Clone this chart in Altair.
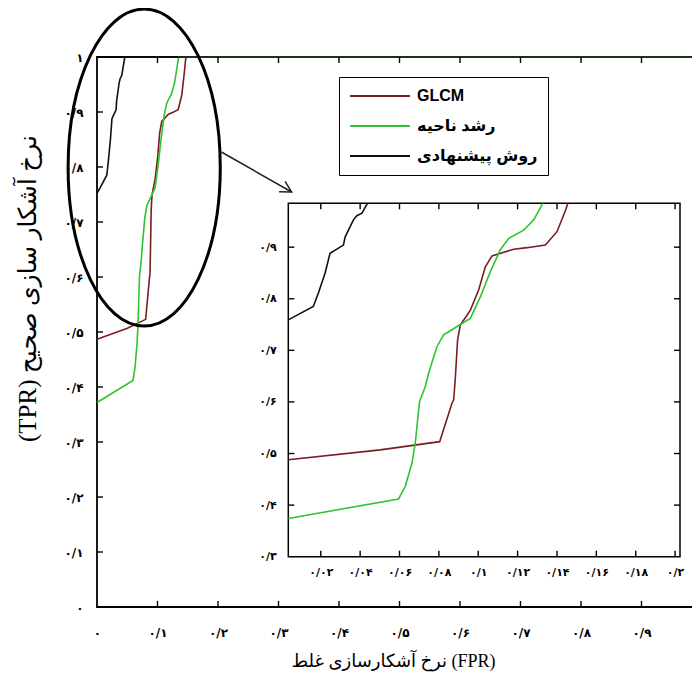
import json
import altair as alt
import pandas as pd

# ---------------- data ----------------
methods = ["GLCM", "رشد ناحیه", "روش پیشنهادی"]
colors = ["#7a1c24", "#2fc42f", "#111111"]

glcm_fpr = [0.0, 0.0035, 0.0502, 0.0804, 0.0867, 0.0875, 0.0883, 0.0895, 0.0909, 0.096, 0.1002,
            0.1036, 0.107, 0.118, 0.1248, 0.1341, 0.140, 0.1444, 0.1455, 0.147, 1.0]
glcm_tpr = [0.487, 0.488, 0.507, 0.523, 0.598, 0.604, 0.643, 0.720, 0.749, 0.778, 0.817,
            0.862, 0.883, 0.896, 0.899, 0.904, 0.930, 0.972, 0.985, 1.0, 1.0]

region_fpr = [0.0, 0.0035, 0.0595, 0.0629, 0.0663, 0.068, 0.0692, 0.0702, 0.0731, 0.0748, 0.079,
              0.0824, 0.0858, 0.0905, 0.096, 0.1011, 0.1062, 0.1112, 0.1155, 0.1231, 0.1282,
              0.1328, 0.135, 1.0]
region_tpr = [0.372, 0.374, 0.412, 0.436, 0.481, 0.520, 0.565, 0.601, 0.630, 0.656, 0.707,
              0.730, 0.738, 0.749, 0.762, 0.804, 0.853, 0.895, 0.917, 0.933, 0.953,
              0.985, 1.0, 1.0]

proposed_fpr = [0.0, 0.0035, 0.0162, 0.0188, 0.0222, 0.0247, 0.029, 0.0315, 0.0324, 0.0366,
                0.0383, 0.0409, 0.0437, 0.046, 1.0]
proposed_tpr = [0.752, 0.759, 0.785, 0.811, 0.850, 0.888, 0.898, 0.904, 0.920, 0.953,
                0.961, 0.966, 0.985, 1.0, 1.0]

main_ticks = [i / 10 for i in range(11)]
main_labels = ["۰", "۰/۱", "۰/۲", "۰/۳", "۰/۴", "۰/۵", "۰/۶", "۰/۷", "۰/۸", "۰/۹", "۱"]
inset_x_ticks = [k * 0.02 for k in range(1, 11)]
inset_x_labels = ["۰/۰۲", "۰/۰۴", "۰/۰۶", "۰/۰۸", "۰/۱", "۰/۱۲", "۰/۱۴", "۰/۱۶", "۰/۱۸", "۰/۲"]
inset_y_ticks = [k / 10 for k in range(3, 10)]
inset_y_labels = ["۰/۳", "۰/۴", "۰/۵", "۰/۶", "۰/۷", "۰/۸", "۰/۹"]

x_title = "نرخ آشکارسازی غلط (FPR)"
y_title = "(TPR) نرخ آشکار سازی صحیح"

# zoom window shown in the inset
INSET_X = [0.0035, 0.2025]
INSET_Y = [0.3, 0.985]

# annotation: ellipse around the zoomed region and arrow to the inset
ellipse_xy = [0.078, 0.799]
arrow_from = [0.2056, 0.8273]
arrow_to = [0.3217, 0.7545]

# ---------------- layout ----------------
W, H = 595, 550          # visible plot area (the frame runs on past the page edge)
XFULL = 605              # pixel length of the full 0..1 x range
INSET_XR = [191.3, 583.0]
INSET_YR = [499.7, 146.3]
TL = 6  # inward tick length

rows = []
for m, xs, ys in zip(methods, [glcm_fpr, region_fpr, proposed_fpr],
                     [glcm_tpr, region_tpr, proposed_tpr]):
    for i, (a, b) in enumerate(zip(xs, ys)):
        rows.append({"method": m, "fpr": a, "tpr": b, "idx": i})
df = pd.DataFrame(rows)

LBL_FONT = "DejaVu Sans"
TITLE_FONT = "Liberation Serif, DejaVu Sans"


def lab_expr(labels, mult, off):
    return f"{json.dumps(labels, ensure_ascii=False)}[round(datum.value*{mult})-{off}]"


main_xs = alt.Scale(domain=[0, 1], range=[0, XFULL], nice=False, zero=False)
main_ys = alt.Scale(domain=[0, 1], nice=False, zero=False)
inset_xs = alt.Scale(domain=INSET_X, range=INSET_XR, nice=False, zero=False)
inset_ys = alt.Scale(domain=INSET_Y, range=INSET_YR, nice=False, zero=False)

legend = alt.Legend(orient="none", legendX=242, legendY=20, title=None, symbolType="stroke",
                    symbolSize=3600, symbolStrokeWidth=2, labelFont="Liberation Sans, DejaVu Sans",
                    labelFontSize=16, labelFontWeight="bold", labelColor="black",
                    strokeColor="black", fillColor="white", padding=10, rowPadding=12,
                    labelOffset=6, clipHeight=18)
color = alt.Color("method:N", scale=alt.Scale(domain=methods, range=colors), legend=legend)

main_x_axis = alt.Axis(orient="bottom", values=main_ticks[:10],
                       labelExpr=lab_expr(main_labels, 10, 0),
                       ticks=False, domain=False, grid=False, labelPadding=20, labelFlush=False,
                       labelOverlap=False, labelFont=LBL_FONT, labelFontSize=12,
                       labelFontWeight="bold", labelColor="black", title=x_title,
                       titleFont=TITLE_FONT, titleFontSize=18, titleFontWeight="normal",
                       titleColor="black", titlePadding=14, titleX=296,
                       titleAlign="center", zindex=1)
main_y_axis = alt.Axis(orient="left", values=main_ticks, labelExpr=lab_expr(main_labels, 10, 0),
                       ticks=False, domain=False, grid=False, labelPadding=14, labelFlush=False,
                       labelOverlap=False, labelFont=LBL_FONT, labelFontSize=12,
                       labelFontWeight="bold", labelColor="black", title=y_title,
                       titleFont=TITLE_FONT, titleFontSize=25, titleFontWeight="normal",
                       titleColor="black", titleAngle=270, titleX=-70, titleY=231,
                       titleAlign="center", titleBaseline="middle", zindex=1)

# main frame (box), drawn through the main scales
mframe_df = pd.DataFrame([{"x0": 0.0, "x1": 1.0, "y0": 0.0, "y1": 1.0}])
main_frame = alt.Chart(mframe_df).mark_rect(filled=False, stroke="black", strokeWidth=1.8).encode(
    x=alt.X("x0:Q", scale=main_xs, axis=None), x2="x1:Q",
    y=alt.Y("y0:Q", scale=main_ys, axis=None), y2="y1:Q")

main_lines = alt.Chart(df).mark_line(strokeWidth=1.6).encode(
    x=alt.X("fpr:Q", scale=main_xs, axis=main_x_axis),
    y=alt.Y("tpr:Q", scale=main_ys, axis=main_y_axis),
    color=color, order="idx:Q")

# inward tick marks (MATLAB style box axes)
main_tick_df = pd.DataFrame({"v": main_ticks[1:10]})
inset_xt_df = pd.DataFrame({"v": inset_x_ticks})
inset_yt_df = pd.DataFrame({"v": inset_y_ticks[1:]})


def xticks(data, scale, y_edge, direction):
    return alt.Chart(data).mark_rule(color="black", strokeWidth=1.4).encode(
        x=alt.X("v:Q", scale=scale, axis=None),
        y=alt.value(y_edge), y2=alt.value(y_edge + direction * TL))


def yticks(data, scale, x_edge, direction):
    return alt.Chart(data).mark_rule(color="black", strokeWidth=1.4).encode(
        y=alt.Y("v:Q", scale=scale, axis=None),
        x=alt.value(x_edge), x2=alt.value(x_edge + direction * TL))


tick_layers = [
    xticks(main_tick_df, main_xs, H, -1), xticks(main_tick_df, main_xs, 0, 1),
    yticks(main_tick_df, main_ys, 0, 1), yticks(main_tick_df, main_ys, XFULL, -1),
]

frame_df = pd.DataFrame([{"x0": INSET_X[0], "x1": INSET_X[1], "y0": INSET_Y[0], "y1": INSET_Y[1]}])
inset_x_axis = alt.Axis(orient="bottom", offset=-(H - INSET_YR[0]), values=inset_x_ticks,
                        labelExpr=lab_expr(inset_x_labels, 50, 1), ticks=False, domain=False,
                        grid=False, labelPadding=10, labelFlush=False, labelOverlap=False,
                        labelFont=LBL_FONT, labelFontSize=11, labelFontWeight="bold",
                        labelColor="black", title=None, zindex=1)
inset_y_axis = alt.Axis(orient="left", offset=-INSET_XR[0], values=inset_y_ticks,
                        labelExpr=lab_expr(inset_y_labels, 10, 3), ticks=False, domain=False,
                        grid=False, labelPadding=12, labelFlush=False, labelOverlap=False,
                        labelFont=LBL_FONT, labelFontSize=11, labelFontWeight="bold",
                        labelColor="black", title=None, zindex=1)
inset_frame = alt.Chart(frame_df).mark_rect(fill="white", stroke="black", strokeWidth=1.5).encode(
    x=alt.X("x0:Q", scale=inset_xs, axis=inset_x_axis), x2="x1:Q",
    y=alt.Y("y0:Q", scale=inset_ys, axis=inset_y_axis), y2="y1:Q")

inset_tick_layers = [
    xticks(inset_xt_df, inset_xs, INSET_YR[0], -1), xticks(inset_xt_df, inset_xs, INSET_YR[1], 1),
    yticks(inset_yt_df, inset_ys, INSET_XR[0], 1), yticks(inset_yt_df, inset_ys, INSET_XR[1], -1),
]

flt = f"datum.fpr >= {INSET_X[0]} - 1e-9 && datum.tpr <= {INSET_Y[1]} + 1e-9"
inset_lines = alt.Chart(df).transform_filter(flt).mark_line(strokeWidth=1.6).encode(
    x=alt.X("fpr:Q", scale=inset_xs, axis=None),
    y=alt.Y("tpr:Q", scale=inset_ys, axis=None),
    color=color, order="idx:Q")

ell_df = pd.DataFrame([{"x": ellipse_xy[0], "y": ellipse_xy[1]}])
ellipse = alt.Chart(ell_df).mark_point(
    shape="M 0 -1 A 0.48 1 0 1 1 0 1 A 0.48 1 0 1 1 0 -1 Z",
    size=317 * 317, filled=False, color="black", strokeWidth=3, opacity=1).encode(
    x=alt.X("x:Q", scale=main_xs, axis=None), y=alt.Y("y:Q", scale=main_ys, axis=None))

arr_df = pd.DataFrame([{"x": arrow_from[0], "y": arrow_from[1], "x2": arrow_to[0], "y2": arrow_to[1]}])
arrow_line = alt.Chart(arr_df).mark_rule(color="#222222", strokeWidth=1.5).encode(
    x=alt.X("x:Q", scale=main_xs, axis=None), y=alt.Y("y:Q", scale=main_ys, axis=None),
    x2="x2:Q", y2="y2:Q")
arrow_head = alt.Chart(arr_df).mark_point(
    shape="M -1 -0.55 L 0 0 L -1 0.55", size=484, filled=False, color="#222222",
    strokeWidth=1.5, angle=29.7, opacity=1).encode(
    x=alt.X("x2:Q", scale=main_xs, axis=None), y=alt.Y("y2:Q", scale=main_ys, axis=None))

chart = alt.layer(
    main_frame, main_lines, *tick_layers,
    inset_frame, *inset_tick_layers, inset_lines,
    ellipse, arrow_line, arrow_head,
).resolve_scale(x="independent", y="independent").resolve_axis(
    x="independent", y="independent"
).properties(
    width=W, height=H,
    autosize=alt.AutoSizeParams(type="none"),
    padding={"left": 89, "top": 49, "right": 0, "bottom": 67},
    background="white",
).configure_view(strokeWidth=0)

chart.save("out.html", embed_options={"renderer": "svg", "actions": False})
